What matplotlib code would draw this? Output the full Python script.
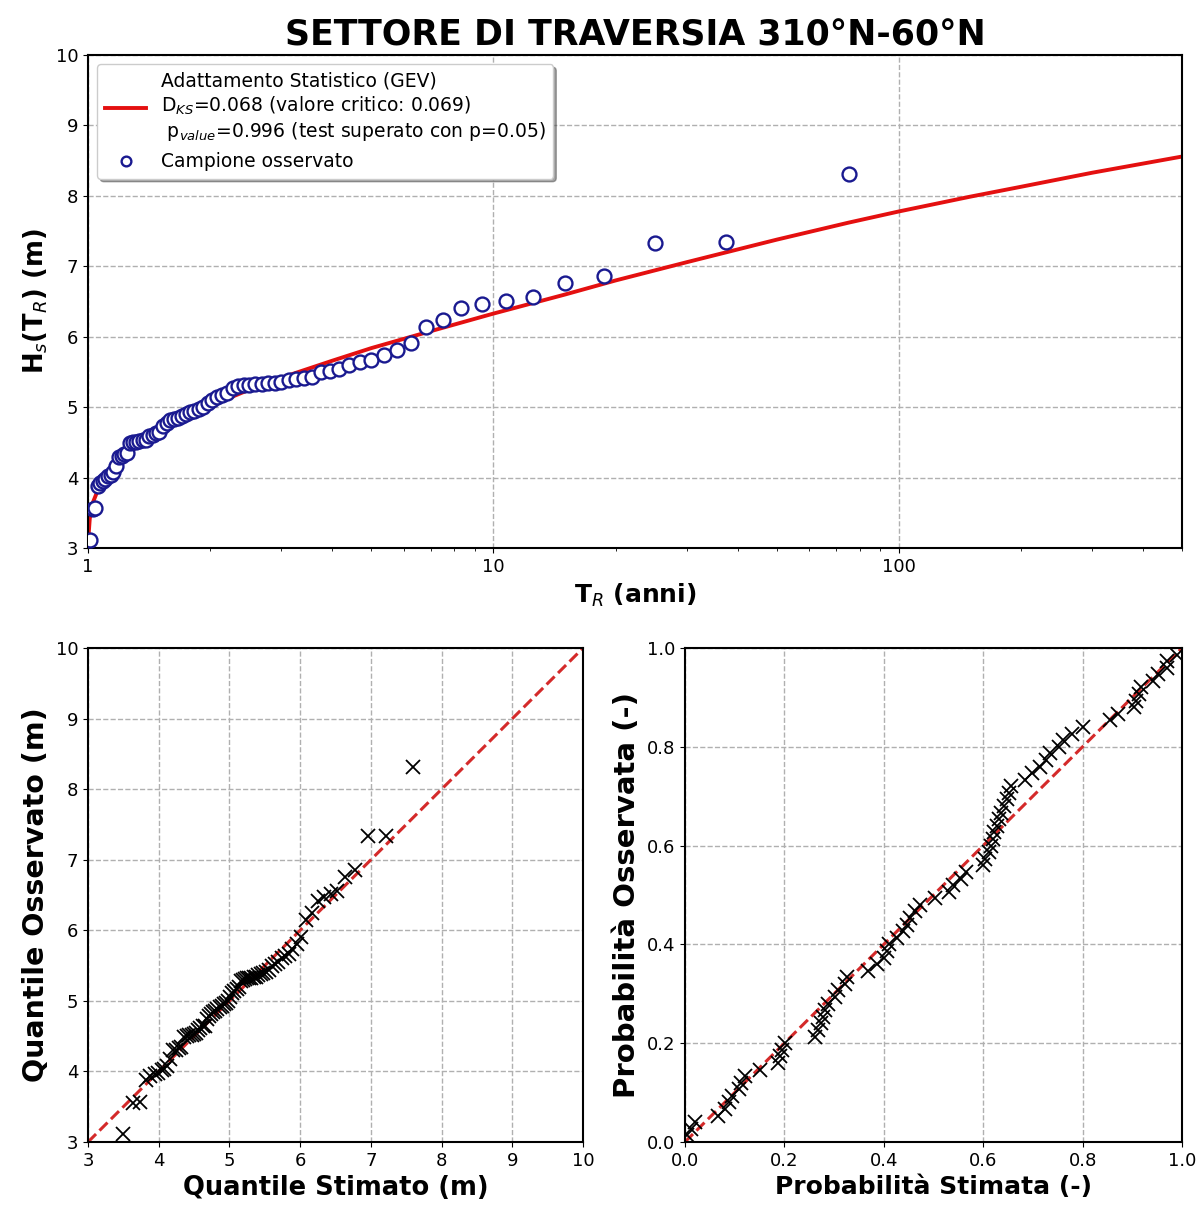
import matplotlib
matplotlib.use('Agg')
import matplotlib.pyplot as plt
import numpy as np
from matplotlib.ticker import NullFormatter, FixedLocator, FixedFormatter

# observed annual maxima (sorted), plotting positions, fitted GEV curve
h_obs = [3.12, 3.55, 3.57, 3.88, 3.93, 3.96, 3.98, 4.02, 4.04, 4.08,
         4.17, 4.30, 4.31, 4.33, 4.35, 4.49, 4.50, 4.51, 4.52, 4.53,
         4.54, 4.59, 4.61, 4.64, 4.65, 4.74, 4.78, 4.82, 4.84, 4.85,
         4.88, 4.91, 4.93, 4.95, 4.97, 5.00, 5.06, 5.11, 5.14, 5.17,
         5.20, 5.28, 5.30, 5.31, 5.32, 5.33, 5.33, 5.34, 5.34, 5.36,
         5.38, 5.40, 5.41, 5.43, 5.50, 5.52, 5.55, 5.60, 5.64, 5.67,
         5.74, 5.81, 5.91, 6.14, 6.24, 6.41, 6.47, 6.51, 6.56, 6.76,
         6.86, 7.33, 7.34, 8.31]

p_obs = [0.0133, 0.0267, 0.0400, 0.0533, 0.0667, 0.0800, 0.0933, 0.1067, 0.1200, 0.1333,
         0.1467, 0.1600, 0.1733, 0.1867, 0.2000, 0.2133, 0.2267, 0.2400, 0.2533, 0.2667,
         0.2800, 0.2933, 0.3067, 0.3200, 0.3333, 0.3467, 0.3600, 0.3733, 0.3867, 0.4000,
         0.4133, 0.4267, 0.4400, 0.4533, 0.4667, 0.4800, 0.4933, 0.5067, 0.5200, 0.5333,
         0.5467, 0.5600, 0.5733, 0.5867, 0.6000, 0.6133, 0.6267, 0.6400, 0.6533, 0.6667,
         0.6800, 0.6933, 0.7067, 0.7200, 0.7333, 0.7467, 0.7600, 0.7733, 0.7867, 0.8000,
         0.8133, 0.8267, 0.8400, 0.8533, 0.8667, 0.8800, 0.8933, 0.9067, 0.9200, 0.9333,
         0.9467, 0.9600, 0.9733, 0.9867]

# quantiles estimated by the GEV at each plotting position
q_est = [3.49, 3.64, 3.73, 3.82, 3.88, 3.94, 3.99, 4.04, 4.08, 4.12,
         4.16, 4.20, 4.24, 4.28, 4.32, 4.36, 4.40, 4.43, 4.47, 4.50,
         4.53, 4.56, 4.59, 4.62, 4.65, 4.68, 4.71, 4.74, 4.77, 4.80,
         4.83, 4.86, 4.89, 4.92, 4.95, 4.98, 5.01, 5.04, 5.07, 5.10,
         5.13, 5.16, 5.19, 5.22, 5.25, 5.28, 5.31, 5.34, 5.37, 5.41,
         5.45, 5.48, 5.52, 5.56, 5.60, 5.64, 5.69, 5.74, 5.79, 5.84,
         5.89, 5.95, 6.01, 6.08, 6.16, 6.25, 6.34, 6.44, 6.52, 6.63,
         6.77, 6.96, 7.21, 7.60]

# GEV probability of each observed value
p_est = [0.005, 0.013, 0.020, 0.067, 0.080, 0.088, 0.094, 0.108, 0.113, 0.121,
         0.151, 0.188, 0.192, 0.196, 0.201, 0.262, 0.268, 0.274, 0.278, 0.282,
         0.287, 0.302, 0.308, 0.322, 0.327, 0.369, 0.386, 0.400, 0.406, 0.411,
         0.426, 0.438, 0.446, 0.452, 0.463, 0.473, 0.503, 0.532, 0.540, 0.556,
         0.565, 0.600, 0.604, 0.612, 0.616, 0.619, 0.622, 0.627, 0.632, 0.636,
         0.641, 0.647, 0.652, 0.656, 0.684, 0.698, 0.714, 0.726, 0.735, 0.752,
         0.760, 0.778, 0.801, 0.855, 0.872, 0.903, 0.908, 0.913, 0.918, 0.942,
         0.952, 0.969, 0.970, 0.989]

T_fit = [1.002, 1.005, 1.01, 1.02, 1.03, 1.05, 1.1, 1.2, 1.3, 1.5, 1.75, 2.0, 2.5,
         3.0, 4.0, 5.0, 7.0, 10, 15, 20, 30, 50, 75, 100, 150, 200, 300, 500]
H_fit = [3.05, 3.25, 3.42, 3.56, 3.66, 3.78, 4.00, 4.22, 4.41, 4.65, 4.86, 5.02, 5.25,
         5.42, 5.66, 5.84, 6.08, 6.33, 6.60, 6.80, 7.06, 7.38, 7.62, 7.78, 7.99, 8.13, 8.33, 8.56]

T_obs = 1.0 / (1.0 - np.array(p_obs))

fit_label = ("Adattamento Statistico (GEV)\n"
             "D$_{KS}$=0.068 (valore critico: 0.069)\n"
             " p$_{value}$=0.996 (test superato con p=0.05)")

plt.rcParams['font.family'] = ['DejaVu Sans']
plt.rcParams['axes.linewidth'] = 1.5

fig = plt.figure(figsize=(11.96, 12.10), dpi=100)
ax = fig.add_axes([0.0736, 0.547, 0.915, 0.4075])
ax_qq = fig.add_axes([0.0736, 0.0562, 0.414, 0.4083])
ax_pp = fig.add_axes([0.5727, 0.0562, 0.4156, 0.4083])

grid_kw = dict(color='#b0b0b0', linestyle='--', linewidth=1.0)

# return period plot
ax.plot(T_fit, H_fit, color='#e41010', lw=2.8, label=fit_label, zorder=2)
ax.plot(T_obs, h_obs, 'o', ms=10, mfc='white', mec='#1a1a90', mew=1.7,
        label='Campione osservato', zorder=3)
ax.set_xscale('log')
ax.set_xlim(1, 500)
ax.set_ylim(3, 10)
ax.xaxis.set_major_locator(FixedLocator([1, 10, 100]))
ax.xaxis.set_major_formatter(FixedFormatter(['1', '10', '100']))
ax.xaxis.set_minor_formatter(NullFormatter())
ax.grid(True, which='major', **grid_kw)
ax.tick_params(labelsize=13)
ax.set_xlabel('T$_R$ (anni)', fontsize=18, fontweight='bold')
ax.set_ylabel('H$_s$(T$_R$) (m)', fontsize=18.5, fontweight='bold')
ax.set_title('SETTORE DI TRAVERSIA 310°N-60°N', fontsize=25, fontweight='bold', pad=7)
leg = ax.legend(loc='upper left', fontsize=13.5, shadow=True, fancybox=True,
                markerscale=0.7, framealpha=1, handlelength=2.2)

# quantile-quantile plot
ax_qq.plot([3, 10], [3, 10], '--', color='#d42a2a', lw=2.2)
ax_qq.plot(q_est, h_obs, 'x', color='black', ms=10, mew=1.3)
ax_qq.set_xlim(3, 10)
ax_qq.set_ylim(3, 10)
ax_qq.grid(True, **grid_kw)
ax_qq.tick_params(labelsize=13)
ax_qq.set_xlabel('Quantile Stimato (m)', fontsize=18.5, fontweight='bold')
ax_qq.set_ylabel('Quantile Osservato (m)', fontsize=20.5, fontweight='bold')

# probability-probability plot
ax_pp.plot([0, 1], [0, 1], '--', color='#d42a2a', lw=2.2)
ax_pp.plot(p_est, p_obs, 'x', color='black', ms=10, mew=1.3)
ax_pp.set_xlim(0, 1)
ax_pp.set_ylim(0, 1)
ax_pp.set_xticks([0, 0.2, 0.4, 0.6, 0.8, 1.0])
ax_pp.set_yticks([0, 0.2, 0.4, 0.6, 0.8, 1.0])
ax_pp.grid(True, **grid_kw)
ax_pp.tick_params(labelsize=13)
ax_pp.set_xlabel('Probabilità Stimata (-)', fontsize=18, fontweight='bold')
ax_pp.set_ylabel('Probabilità Osservata (-)', fontsize=21, fontweight='bold')

fig.savefig('out.png', dpi=100)
